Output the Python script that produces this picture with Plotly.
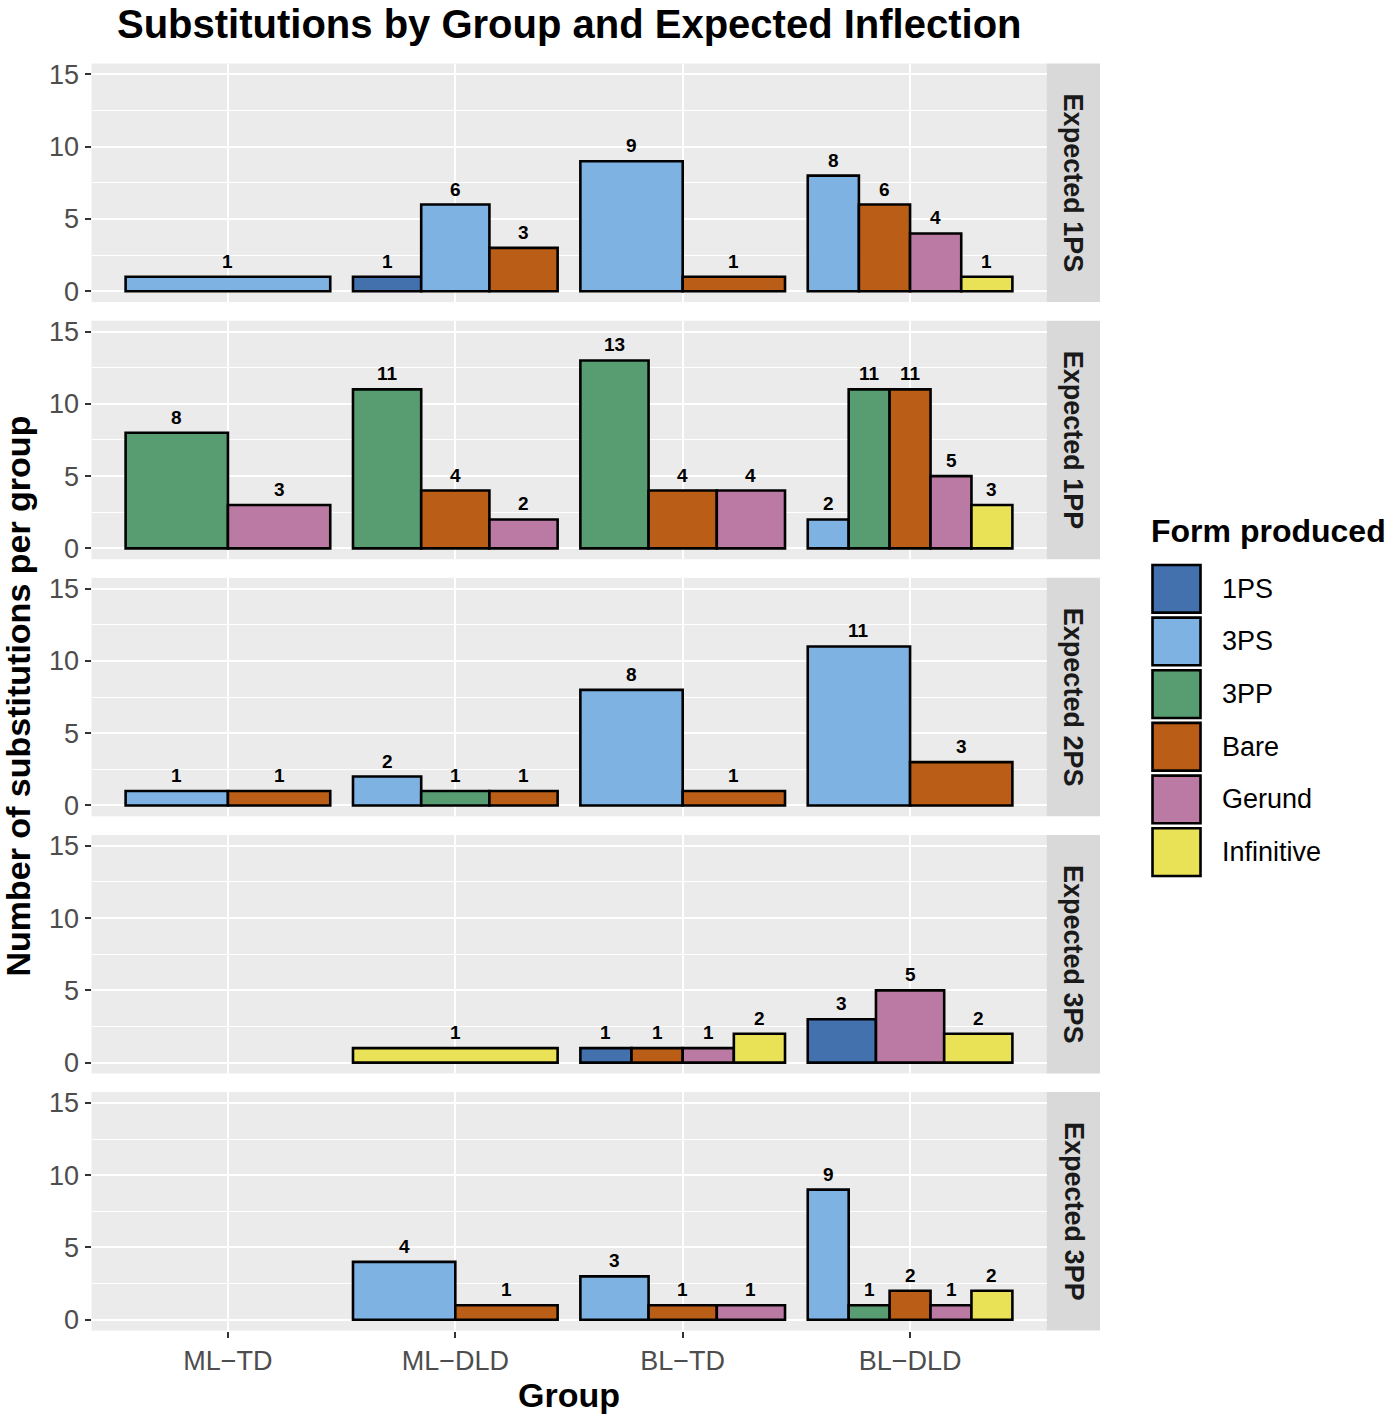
import plotly.graph_objects as go

# ---------------- data ----------------
groups = ["ML\u2212TD", "ML\u2212DLD", "BL\u2212TD", "BL\u2212DLD"]
expected = ["Expected 1PS", "Expected 1PP", "Expected 2PS", "Expected 3PS", "Expected 3PP"]
forms = ["1PS", "3PS", "3PP", "Bare", "Gerund", "Infinitive"]
colors = ["#4271AE", "#7DB2E3", "#589D72", "#BA5D16", "#BA7AA3", "#E9E257"]

# values[panel][group]; None = form not produced
v_1PS = [[None, 1, None, None], [None, None, None, None], [None, None, None, None], [None, None, 1, 3], [None, None, None, None]]
v_3PS = [[1, 6, 9, 8], [None, None, None, 2], [1, 2, 8, 11], [None, None, None, None], [None, 4, 3, 9]]
v_3PP = [[None, None, None, None], [8, 11, 13, 11], [None, 1, None, None], [None, None, None, None], [None, None, None, 1]]
v_Bare = [[None, 3, 1, 6], [None, 4, 4, 11], [1, 1, 1, 3], [None, None, 1, None], [None, 1, 1, 2]]
v_Gerund = [[None, None, None, 4], [3, 2, 4, 5], [None, None, None, None], [None, None, 1, 5], [None, None, 1, 1]]
v_Infinitive = [[None, None, None, 1], [None, None, None, 3], [None, None, None, None], [None, 1, 2, 2], [None, None, None, 2]]
values = [v_1PS, v_3PS, v_3PP, v_Bare, v_Gerund, v_Infinitive]

y_ticks = [0, 5, 10, 15]
y_minor = [2.5, 7.5, 12.5]

# ---------------- layout helpers ----------------
W, H = 1399, 1422
FONT = "Liberation Sans, Arial, sans-serif"
PX_L, PX_R = 91.5, 1046.5
STRIP_R = 1100
PANEL_TOP0, PANEL_H, PANEL_STEP = 60, 240, 258.75


def fx(px):
    return px / W


def fy(py):
    return 1 - py / H


fig = go.Figure()
layout = dict(
    width=W, height=H, margin=dict(l=0, r=0, t=0, b=0),
    paper_bgcolor="white", plot_bgcolor="#EBEBEB",
    barmode="overlay", showlegend=False,
    font=dict(family=FONT),
)
shapes = []
annotations = []
DODGE = 0.9

for p, panel in enumerate(expected):
    k = p + 1
    xa = "x" if k == 1 else f"x{k}"
    ya = "y" if k == 1 else f"y{k}"
    top = PANEL_TOP0 + p * PANEL_STEP
    bot = top + PANEL_H
    is_bottom = p == len(expected) - 1

    # dodge positions per group
    bars = {f: ([], [], []) for f in range(len(forms))}
    for g in range(len(groups)):
        present = [f for f in range(len(forms)) if values[f][p][g] is not None]
        n = len(present)
        if n == 0:
            continue
        w = DODGE / n
        for i, f in enumerate(present):
            xs, ys, ws = bars[f]
            xs.append(g + 1 - DODGE / 2 + w * (i + 0.5))
            ys.append(values[f][p][g])
            ws.append(w)

    for f in range(len(forms)):
        xs, ys, ws = bars[f]
        if not xs:
            continue
        fig.add_trace(go.Bar(
            x=xs, y=ys, width=ws, xaxis=xa, yaxis=ya, name=forms[f],
            marker=dict(color=colors[f], line=dict(color="black", width=2.6)),
            hoverinfo="x+y+name",
        ))
    for f in range(len(forms)):
        xs, ys, ws = bars[f]
        if not xs:
            continue
        for x, y in zip(xs, ys):
            annotations.append(dict(
                x=x, y=y, xref=xa, yref=ya, text=str(y), showarrow=False,
                xanchor="center", yanchor="bottom", yshift=3,
                font=dict(size=19, color="black", family=FONT, weight="bold"),
            ))

    layout["xaxis" if k == 1 else f"xaxis{k}"] = dict(
        domain=[fx(PX_L), fx(PX_R)], anchor=ya, range=[0.4, 4.6],
        tickvals=[1, 2, 3, 4], ticktext=groups,
        showticklabels=is_bottom, ticks="outside" if is_bottom else "",
        ticklen=6, tickwidth=2, tickcolor="#333333",
        tickfont=dict(size=27, color="#4D4D4D", family=FONT),
        showgrid=True, gridcolor="white", gridwidth=2.2, zeroline=False,
        showline=False,
    )
    layout["yaxis" if k == 1 else f"yaxis{k}"] = dict(
        domain=[fy(bot), fy(top)], anchor=xa, range=[-0.75, 15.75],
        tickvals=y_ticks, ticks="outside", ticklen=6, tickwidth=2,
        tickcolor="#333333",
        tickfont=dict(size=27, color="#4D4D4D", family=FONT),
        showgrid=True, gridcolor="white", gridwidth=2.2, zeroline=False,
        showline=False,
        minor=dict(tickvals=y_minor, showgrid=True, gridcolor="white",
                   gridwidth=1.1, ticks=""),
    )

    # facet strip
    shapes.append(dict(type="rect", xref="paper", yref="paper",
                       x0=fx(PX_R), x1=fx(STRIP_R), y0=fy(bot), y1=fy(top),
                       fillcolor="#D9D9D9", line=dict(width=0), layer="below"))
    annotations.append(dict(
        x=fx((PX_R + STRIP_R) / 2), y=fy((top + bot) / 2), xref="paper", yref="paper",
        text=panel, textangle=90, showarrow=False, xanchor="center", yanchor="middle",
        font=dict(size=27, color="#1A1A1A", family=FONT, weight="bold"),
    ))

# titles
annotations.append(dict(
    x=fx((PX_L + PX_R) / 2), y=fy(20), xref="paper", yref="paper",
    text="<b>Substitutions by Group and Expected Inflection</b>", showarrow=False,
    xanchor="center", yanchor="middle", font=dict(size=40, color="black", family=FONT)))
annotations.append(dict(
    x=fx((PX_L + PX_R) / 2), y=fy(1400), xref="paper", yref="paper",
    text="<b>Group</b>", showarrow=False,
    xanchor="center", yanchor="middle", font=dict(size=34, color="black", family=FONT)))
annotations.append(dict(
    x=fx(18), y=fy(697), xref="paper", yref="paper",
    text="<b>Number of substitutions per group</b>", showarrow=False, textangle=-90,
    xanchor="center", yanchor="middle", font=dict(size=34, color="black", family=FONT)))

# legend (ggplot-style keys)
annotations.append(dict(
    x=fx(1149), y=fy(530), xref="paper", yref="paper",
    text="<b>Form produced</b>", showarrow=False,
    xanchor="left", yanchor="middle", font=dict(size=32, color="black", family=FONT)))
KEY_TOP, KEY_STEP, KEY_X0, KEY_X1 = 563, 53, 1151, 1202
for f, name in enumerate(forms):
    t = KEY_TOP + f * KEY_STEP
    shapes.append(dict(type="rect", xref="paper", yref="paper",
                       x0=fx(KEY_X0), x1=fx(KEY_X1), y0=fy(t + 51), y1=fy(t),
                       fillcolor="#F2F2F2", line=dict(width=0)))
    shapes.append(dict(type="rect", xref="paper", yref="paper",
                       x0=fx(KEY_X0 + 1.5), x1=fx(KEY_X1 - 1.5), y0=fy(t + 49.5), y1=fy(t + 1.5),
                       fillcolor=colors[f], line=dict(color="black", width=2.6)))
    annotations.append(dict(
        x=fx(1220), y=fy(t + 25.5), xref="paper", yref="paper",
        text=name, showarrow=False, xanchor="left", yanchor="middle",
        font=dict(size=27, color="black", family=FONT)))

layout["shapes"] = shapes
layout["annotations"] = annotations
fig.update_layout(**layout)
fig.write_html("out.html")
